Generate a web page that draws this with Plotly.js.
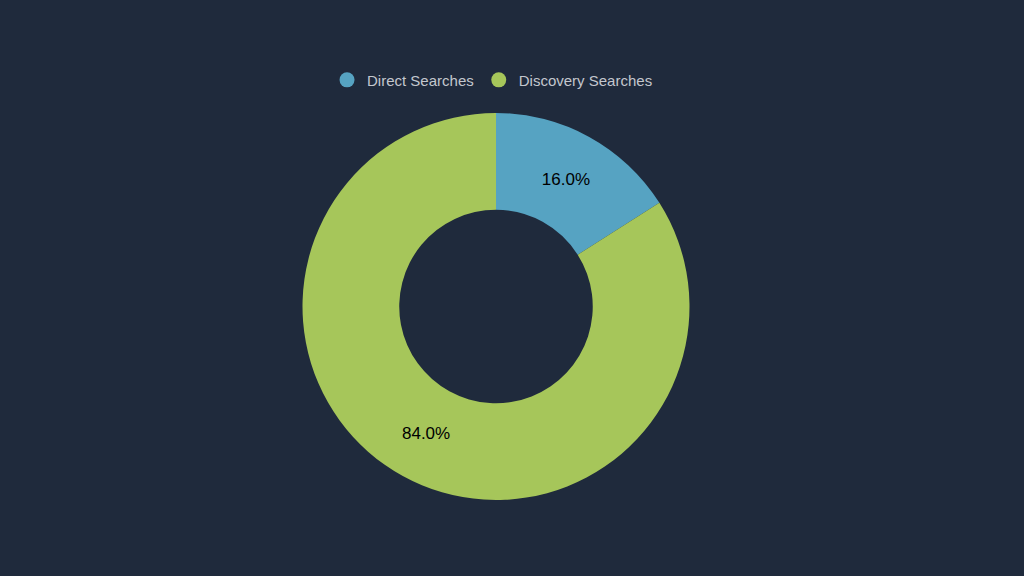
<!DOCTYPE html>
<html>
<head>
<meta charset="utf-8">
<script src="https://cdn.plot.ly/plotly-3.0.1.min.js"></script>
<style>
html,body{margin:0;padding:0;background:#1f2a3c;}
#chart{width:1024px;height:576px;}
</style>
</head>
<body>
<div id="chart"></div>
<script>
const categories = ["Direct Searches", "Discovery Searches"];
const values = [16.0, 84.0];
const colors = ["#56a3c2", "#a6c65a"];

const pie = {
  type: "pie",
  labels: categories,
  values: values,
  hole: 0.5,
  sort: false,
  direction: "clockwise",
  rotation: 0,
  marker: {colors: colors, line: {width: 0}},
  textinfo: "percent",
  texttemplate: "%{percent:.1%}",
  textposition: "inside",
  insidetextorientation: "horizontal",
  textfont: {family: "Liberation Sans, Arial, sans-serif", size: 17, color: "#000000"},
  hoverinfo: "label+percent",
  showlegend: false
};

const legendTraces = categories.map((c, i) => ({
  type: "scatter",
  mode: "markers",
  x: [null],
  y: [null],
  name: c,
  marker: {symbol: "circle", size: 15, color: colors[i]},
  showlegend: true,
  hoverinfo: "skip"
}));

const layout = {
  width: 1024,
  height: 576,
  paper_bgcolor: "#1f2a3c",
  plot_bgcolor: "#1f2a3c",
  margin: {l: 0, r: 32, t: 113, b: 76},
  xaxis: {visible: false},
  yaxis: {visible: false},
  showlegend: true,
  legend: {
    orientation: "h",
    x: 0.4965,
    xanchor: "center",
    y: 1.085,
    yanchor: "middle",
    font: {family: "Liberation Sans, Arial, sans-serif", size: 15, color: "#c3c7ce"},
    bgcolor: "rgba(0,0,0,0)"
  }
};

Plotly.newPlot("chart", [pie].concat(legendTraces), layout, {displayModeBar: false, staticPlot: true});
</script>
</body>
</html>
